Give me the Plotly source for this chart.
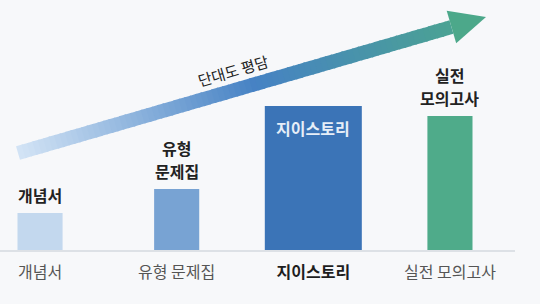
import plotly.graph_objects as go
import numpy as np

categories = ["개념서", "유형 문제집", "지이스토리", "실전 모의고사"]
values = [38, 62, 145, 135]
bar_labels = [["개념서"], ["유형", "문제집"], ["지이스토리"], ["실전", "모의고사"]]
arrow_text = "단대도 평담"

colors = ["#c3d8ee", "#78a3d3", "#3b74b7", "#4fab8a"]
widths = [0.33, 0.33, 0.71, 0.33]
tick_text = [
    "<span style='color:#555'>개념서</span>",
    "<span style='color:#555'>유형 문제집</span>",
    "<b><span style='color:#1e1e1e'>지이스토리</span></b>",
    "<span style='color:#555'>실전 모의고사</span>",
]

W, H = 540, 304
PLOT_BOTTOM = 251  # pixel of baseline
FONT = "Noto Sans CJK KR"

fig = go.Figure()
fig.add_trace(go.Bar(
    x=categories, y=values, width=widths,
    marker=dict(color=colors, line=dict(width=0)),
    hoverinfo="skip",
))

for i, (cat, v, lines) in enumerate(zip(categories, values, bar_labels)):
    if i == 2:
        fig.add_annotation(x=cat, y=v, text="<b>" + lines[0] + "</b>", showarrow=False,
                           yanchor="middle", yshift=-22,
                           font=dict(family=FONT, size=16, color="#e6eef8"))
    else:
        for j, line in enumerate(reversed(lines)):
            fig.add_annotation(x=cat, y=v, text="<b>" + line + "</b>", showarrow=False,
                               yanchor="middle", yshift=18 + 23 * j,
                               font=dict(family=FONT, size=16, color="#222"))

def px(x): return x / W
def py(y): return (PLOT_BOTTOM - y) / PLOT_BOTTOM

start = np.array([18.0, 153.0])
tip = np.array([486.0, 17.0])
d = tip - start
L = np.hypot(*d)
u = d / L
n = np.array([-u[1], u[0]])
head_len = 36.0
head_half = 17.0
shaft_half = 7.0
shaft_end = tip - u * head_len

stops = [(0.0, (210, 227, 245)), (0.5, (70, 130, 196)), (1.0, (76, 168, 138))]
def col(t):
    for (t0, c0), (t1, c1) in zip(stops[:-1], stops[1:]):
        if t <= t1:
            f = (t - t0) / (t1 - t0)
            c = [int(round(a + (b - a) * f)) for a, b in zip(c0, c1)]
            return "rgb(%d,%d,%d)" % tuple(c)
    return "rgb(%d,%d,%d)" % stops[-1][1]

N = 80
for k in range(N):
    a = start + (shaft_end - start) * (k / N)
    b = start + (shaft_end - start) * min((k + 1.3) / N, 1.0)
    pts = [a + n * shaft_half, b + n * shaft_half, b - n * shaft_half, a - n * shaft_half]
    path = "M " + " L ".join(f"{px(p[0]):.5f},{py(p[1]):.5f}" for p in pts) + " Z"
    fig.add_shape(type="path", path=path, xref="paper", yref="paper",
                  fillcolor=col(k / N * (L - head_len) / L), line=dict(width=0), layer="below")

hp = [shaft_end + n * head_half, tip, shaft_end - n * head_half]
path = "M " + " L ".join(f"{px(p[0]):.5f},{py(p[1]):.5f}" for p in hp) + " Z"
fig.add_shape(type="path", path=path, xref="paper", yref="paper",
              fillcolor="rgb(76,168,138)", line=dict(width=0), layer="below")

ang = np.degrees(np.arctan2(d[1], d[0]))
fig.add_annotation(x=px(233), y=py(71), xref="paper", yref="paper", text=arrow_text,
                   textangle=ang, showarrow=False, xanchor="center", yanchor="middle",
                   font=dict(family=FONT, size=15, color="#222"))

fig.add_shape(type="line", x0=0, x1=px(515), y0=0, y1=0, xref="paper", yref="paper",
              line=dict(color="#dde1e6", width=2))

fig.update_layout(
    width=W, height=H,
    margin=dict(l=0, r=0, t=0, b=H - PLOT_BOTTOM),
    paper_bgcolor="#f7f8fa", plot_bgcolor="#f7f8fa",
    showlegend=False,
    font=dict(family=FONT),
)
fig.update_xaxes(range=[-0.293, 3.659], tickvals=categories, ticktext=tick_text,
                 tickfont=dict(family=FONT, size=16), showgrid=False, zeroline=False,
                 showline=False, ticks="", ticklabelstandoff=10)
fig.update_yaxes(range=[0, PLOT_BOTTOM], visible=False, showgrid=False)

fig.write_html("out.html")
